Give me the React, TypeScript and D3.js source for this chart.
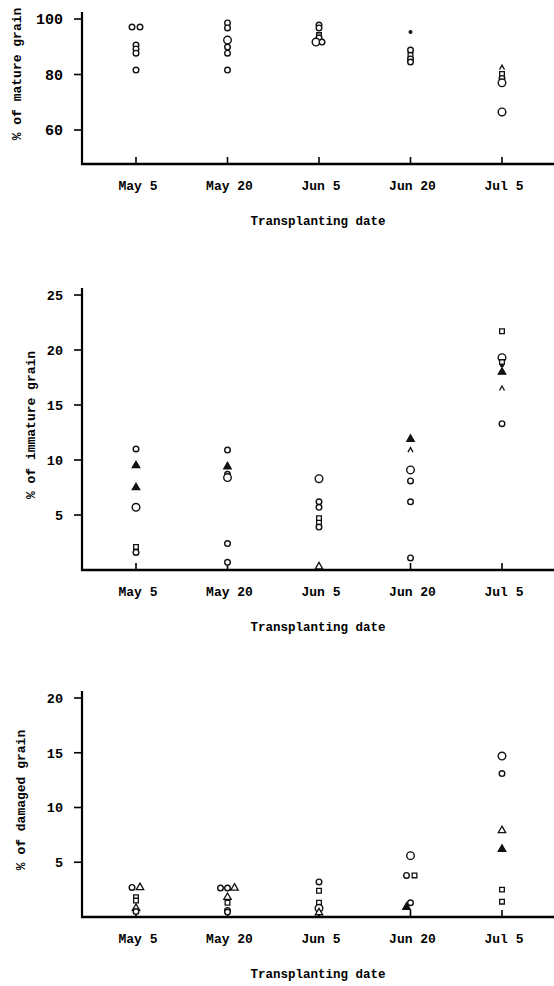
import React from 'react';
import * as d3 from 'd3';

// transplanting dates (x categories)
const dates = ['May 5', 'May 20', 'Jun 5', 'Jun 20', 'Jul 5'];

// marker codes: o small open circle, O large open circle, s open square,
// t open triangle, T filled triangle, ^ caret, . filled dot
const matureValues = [
  [97.1, 97.1, 90.6, 89.2, 87.7, 81.6],
  [98.6, 96.8, 92.4, 89.9, 87.7, 81.6],
  [97.8, 96.8, 94.2, 93.2, 91.7, 91.7],
  [95.3, 88.8, 87.0, 85.6, 84.5],
  [82.5, 80.2, 78.6, 77.0, 66.5],
];
const matureMarks = [
  ['o', 'o', 'o', 'o', 'o', 'o'],
  ['o', 'o', 'O', 'o', 'o', 'o'],
  ['o', 'o', 's', 'o', 'O', 'o'],
  ['.', 'o', 's', 'o', 'o'],
  ['^', 's', 'o', 'O', 'O'],
];
const matureShift = [
  [-4, 4, 0, 0, 0, 0],
  [0, 0, 0, 0, 0, 0],
  [0, 0, 0, 0, -3, 3],
  [0, 0, 0, 0, 0],
  [0, 0, 0, 0, 0],
];

const immatureValues = [
  [11.0, 9.5, 7.5, 5.7, 2.1, 1.6],
  [10.9, 9.4, 8.7, 8.4, 2.4, 0.7],
  [8.3, 6.2, 5.7, 4.7, 4.3, 3.9, 0.3],
  [11.9, 10.9, 9.1, 8.1, 6.2, 1.1],
  [21.7, 19.3, 18.9, 18.6, 18.0, 16.5, 13.3],
];
const immatureMarks = [
  ['o', 'T', 'T', 'O', 's', 'o'],
  ['o', 'T', 'o', 'O', 'o', 'o'],
  ['O', 'o', 'o', 's', 's', 'o', 't'],
  ['T', '^', 'O', 'o', 'o', 'o'],
  ['s', 'O', 's', '.', 'T', '^', 'o'],
];

const damagedValues = [
  [2.7, 2.7, 1.8, 1.5, 0.8, 0.5],
  [2.65, 2.65, 2.65, 1.8, 1.3, 0.6, 0.45],
  [3.2, 2.4, 1.3, 0.8, 0.4],
  [5.6, 3.8, 3.8, 1.3, 0.9],
  [14.7, 13.1, 7.9, 6.2, 2.5, 1.4],
];
const damagedMarks = [
  ['o', 't', 's', 's', 't', 'o'],
  ['o', 'o', 't', 't', 's', 'o', 'o'],
  ['o', 's', 's', 'O', 't'],
  ['O', 'o', 's', 'o', 'T'],
  ['O', 'o', 't', 'T', 's', 's'],
];
const damagedShift = [
  [-4, 4, 0, 0, 0, 0],
  [-7, 0, 7, 0, 0, 0, 0],
  [0, 0, 0, 0, 0],
  [0, -4, 4, 0, -4],
  [0, 0, 0, 0, 0, 0],
];

const matureTicks = [60, 80, 100];
const immatureTicks = [5, 10, 15, 20, 25];
const damagedTicks = [5, 10, 15, 20];

const FONT = '"Liberation Mono", "DejaVu Sans Mono", monospace';

function Marker({ x, y, code }: { x: number; y: number; code: string }) {
  const stroke = '#111';
  if (code === 'o' || code === 'O') {
    return <circle cx={x} cy={y} r={code === 'O' ? 3.8 : 2.8} fill="#fff" stroke={stroke} strokeWidth={1.4} />;
  }
  if (code === '.') {
    return <circle cx={x} cy={y} r={2} fill={stroke} />;
  }
  if (code === '^') {
    return <path d={`M${x - 2.5},${y + 2}L${x},${y - 2.5}L${x + 2.5},${y + 2}`} fill="none" stroke={stroke} strokeWidth={1.3} />;
  }
  const sym = code === 's' ? d3.symbolSquare : d3.symbolTriangle;
  const size = code === 's' ? 22 : 24;
  const d = d3.symbol().type(sym).size(size)() as string;
  return (
    <path
      d={d}
      transform={`translate(${x},${y})`}
      fill={code === 'T' ? stroke : '#fff'}
      stroke={stroke}
      strokeWidth={1.3}
    />
  );
}

type PanelProps = {
  values: number[][];
  marks: string[][];
  shift?: number[][];
  ticks: number[];
  domain: [number, number];
  range: [number, number];
  top: number;
  bottom: number;
  tickSize: number;
  yTitle: string;
  yTitleX: number;
  yTitleY: number;
};

function Panel(p: PanelProps) {
  const axisX = 82;
  const x = d3.scalePoint<string>().domain(dates).range([136, 502]);
  const y = d3.scaleLinear().domain(p.domain).range(p.range);
  return (
    <g>
      {/* axes */}
      <line x1={axisX} x2={axisX} y1={p.top} y2={p.bottom + 1} stroke="#000" strokeWidth={2.2} />
      <line x1={axisX - 1} x2={554} y1={p.bottom} y2={p.bottom} stroke="#000" strokeWidth={2.4} />
      {p.ticks.map((t) => (
        <g key={t}>
          <line x1={axisX - 8} x2={axisX} y1={y(t)} y2={y(t)} stroke="#000" strokeWidth={1.6} />
          <text
            x={axisX - 19}
            y={y(t)}
            dy="0.36em"
            textAnchor="end"
            fontSize={p.tickSize}
            fontWeight="bold"
            fontFamily={FONT}
          >
            {t}
          </text>
        </g>
      ))}
      {dates.map((dt) => (
        <g key={dt}>
          <line x1={x(dt)} x2={x(dt)} y1={p.bottom - 7} y2={p.bottom} stroke="#000" strokeWidth={1.6} />
          <text
            x={(x(dt) as number) + 2}
            y={p.bottom + 26}
            textAnchor="middle"
            fontSize={13}
            fontWeight="bold"
            fontFamily={FONT}
          >
            {dt}
          </text>
        </g>
      ))}
      <text
        x={318}
        y={p.bottom + 61}
        textAnchor="middle"
        fontSize={12.5}
        fontWeight="bold"
        fontFamily={FONT}
      >
        Transplanting date
      </text>
      <text
        transform={`translate(${p.yTitleX},${p.yTitleY}) rotate(-90)`}
        textAnchor="middle"
        dy="0.35em"
        fontSize={13}
        fontWeight="bold"
        fontFamily={FONT}
      >
        {p.yTitle}
      </text>
      {/* points */}
      {p.values.map((vals, i) =>
        vals.map((v, j) => (
          <Marker
            key={`${i}-${j}`}
            x={(x(dates[i]) as number) + (p.shift ? p.shift[i][j] : 0)}
            y={y(v)}
            code={p.marks[i][j]}
          />
        ))
      )}
    </g>
  );
}

export default function App() {
  return (
    <svg
      width={554}
      height={986}
      style={{ position: 'absolute', left: 0, top: 0, background: '#fff' }}
    >
      <rect width={554} height={986} fill="#fff" />
      <Panel
        values={matureValues}
        marks={matureMarks}
        shift={matureShift}
        ticks={matureTicks}
        domain={[60, 100]}
        range={[130, 19]}
        top={12}
        bottom={164}
        tickSize={15}
        yTitle="% of mature grain"
        yTitleX={16}
        yTitleY={74}
      />
      <Panel
        values={immatureValues}
        marks={immatureMarks}
        ticks={immatureTicks}
        domain={[0, 25]}
        range={[570, 295]}
        top={288}
        bottom={570}
        tickSize={13.5}
        yTitle="% of immature grain"
        yTitleX={30}
        yTitleY={425}
      />
      <Panel
        values={damagedValues}
        marks={damagedMarks}
        shift={damagedShift}
        ticks={damagedTicks}
        domain={[0, 20]}
        range={[917, 698]}
        top={691}
        bottom={917}
        tickSize={13.5}
        yTitle="% of damaged grain"
        yTitleX={20}
        yTitleY={800}
      />
    </svg>
  );
}
